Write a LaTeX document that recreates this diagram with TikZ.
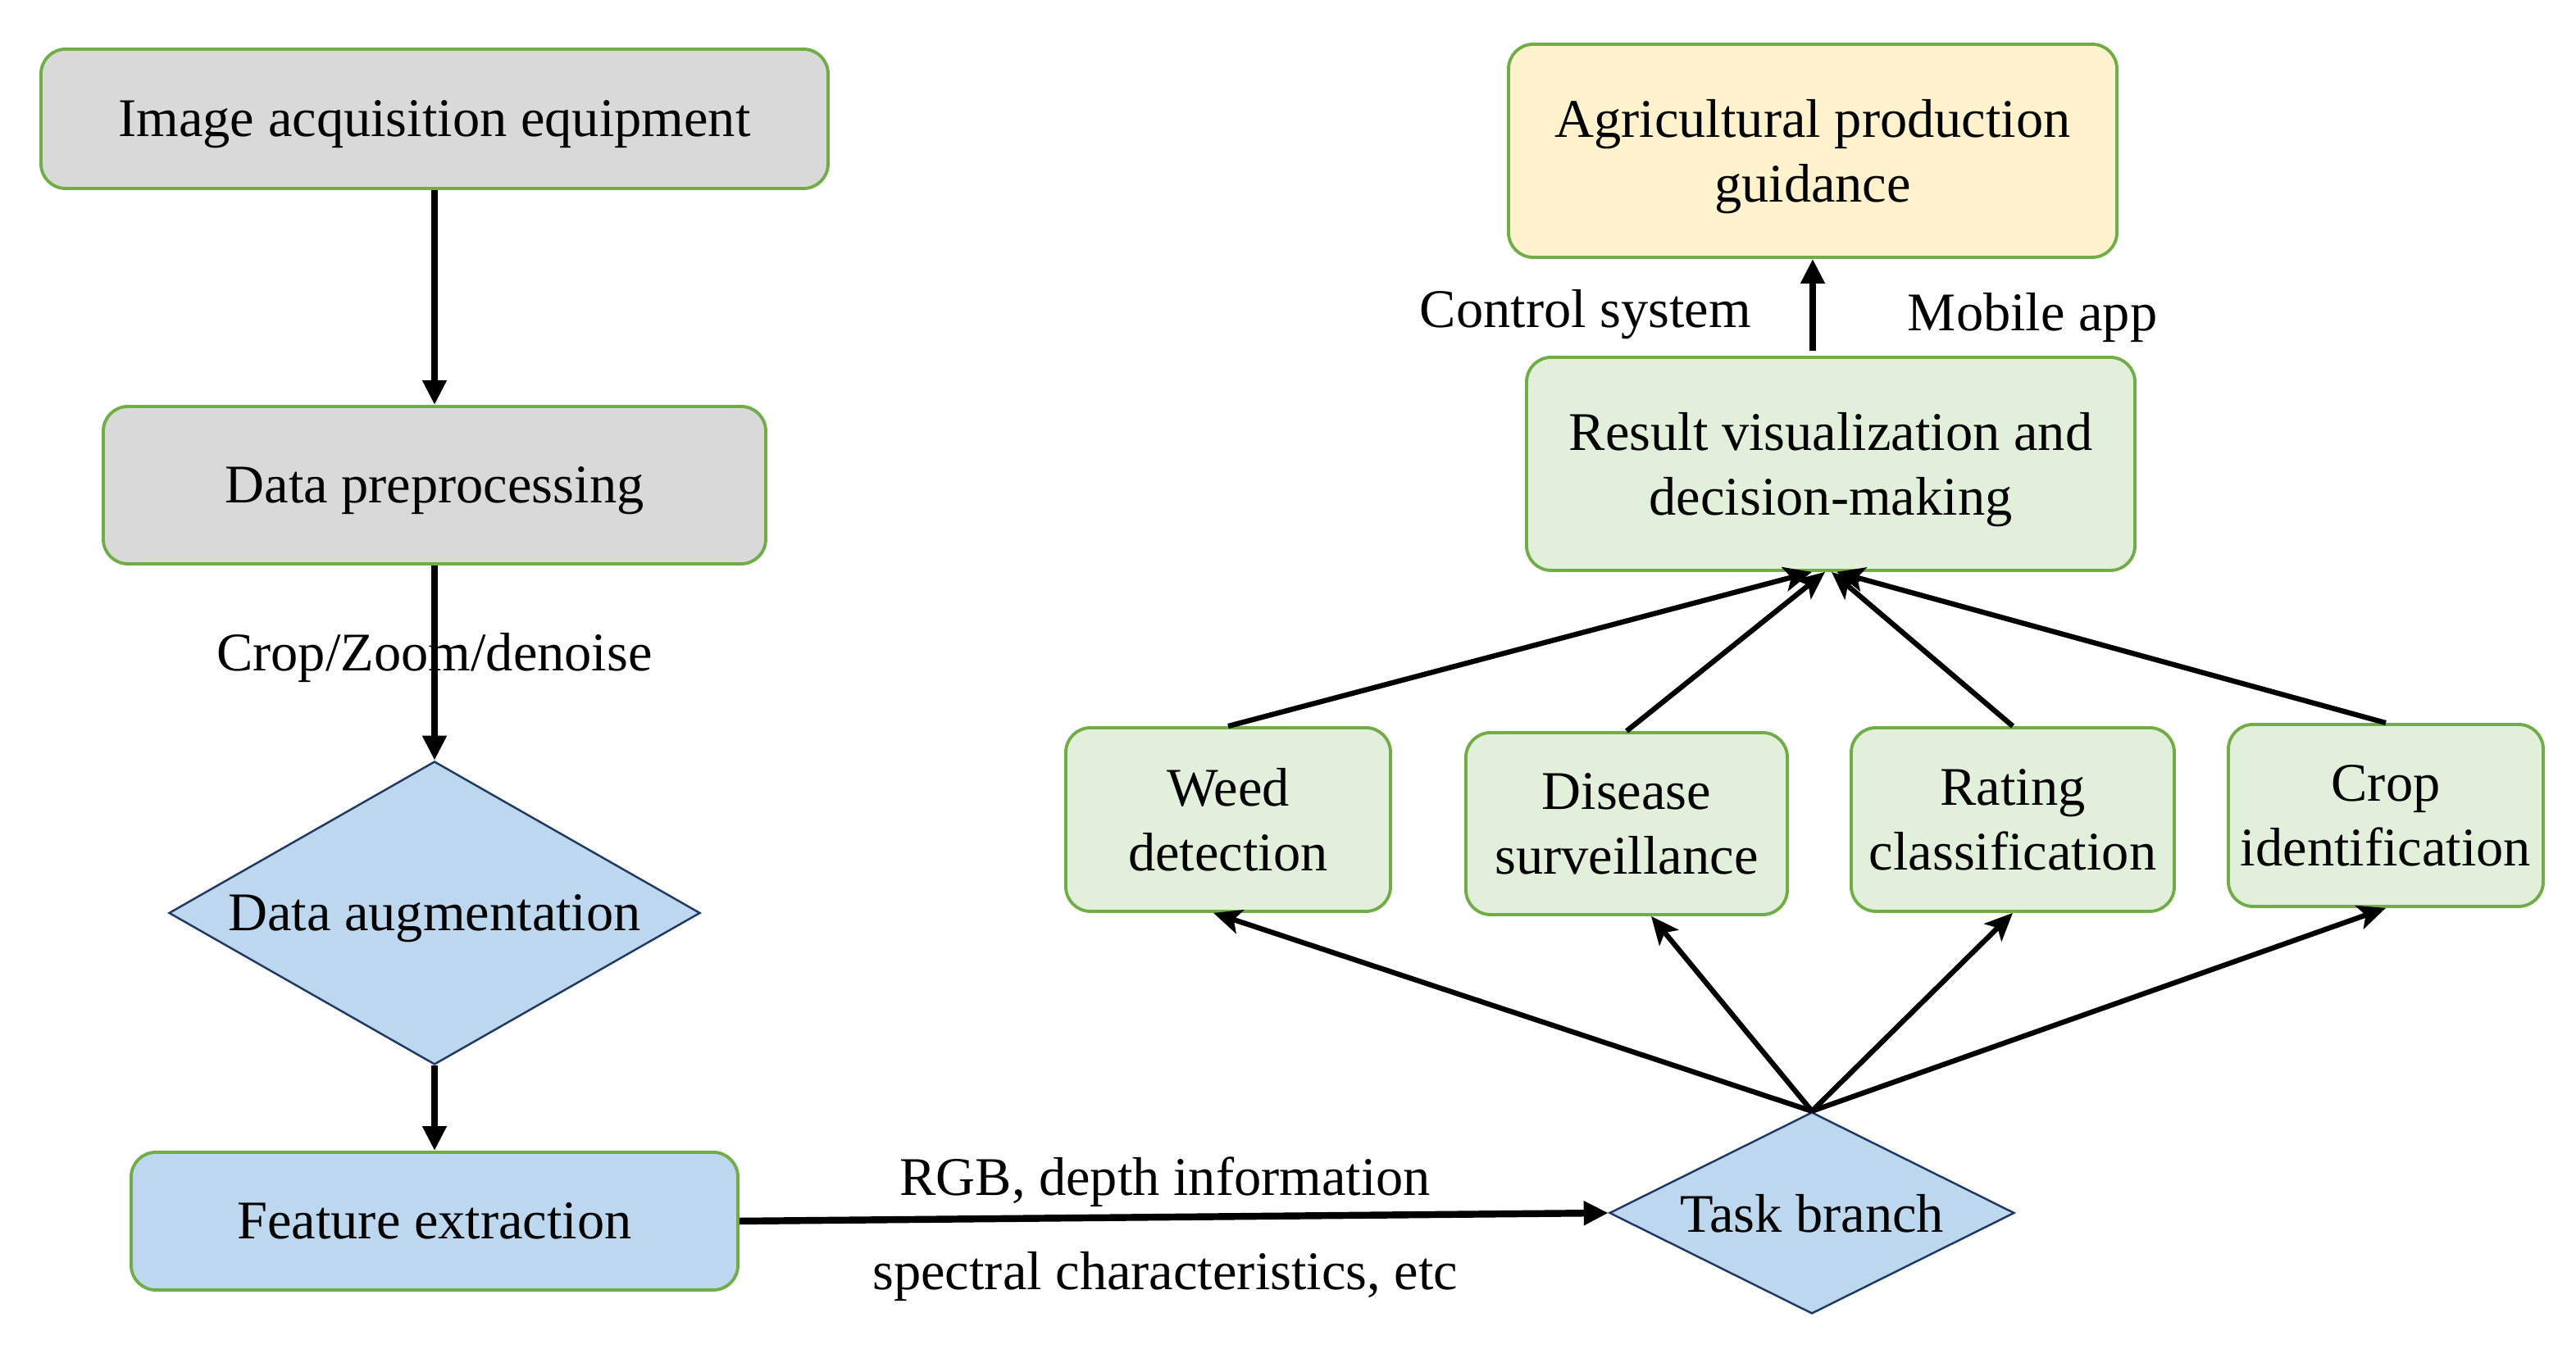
\documentclass[tikz,border=0pt]{standalone}
\usepackage{fontspec}
\setmainfont{Liberation Serif}
\usetikzlibrary{shapes.geometric,arrows.meta,positioning}

\definecolor{edgegreen}{HTML}{70AD47}
\definecolor{fillgray}{HTML}{D9D9D9}
\definecolor{fillgreen}{HTML}{E2EFDA}
\definecolor{fillyellow}{HTML}{FFF2CC}
\definecolor{fillblue}{HTML}{BDD7EE}
\definecolor{edgenavy}{HTML}{203864}

\begin{document}
\begin{tikzpicture}[
  font=\fontsize{18.9pt}{22.5pt}\selectfont,
  box/.style={draw=edgegreen, line width=1.1pt, rounded corners=0.3cm, align=center, inner sep=0pt, text depth=0pt},
  decision/.style={diamond, draw=edgenavy, line width=0.7pt, fill=fillblue, inner sep=0pt, text depth=0pt},
  arr/.style={-{Triangle[length=0.3cm, width=0.28cm]}, line width=2.4pt},
  fan/.style={-{Stealth[length=0.34cm, width=0.3cm, inset=0.08cm]}, line width=1.8pt}
]

  \useasboundingbox (0, 0) rectangle (31.42, 16.46);

  % left column
  \node[box, fill=fillgray, minimum width=9.6cm, minimum height=1.7cm] (acq) at (5.30, 15.01) {Image acquisition equipment};
  \node[box, fill=fillgray, minimum width=8.08cm, minimum height=1.92cm] (pre) at (5.30, 10.54) {Data preprocessing};
  \node[decision, shape aspect=1.75, minimum width=6.48cm, minimum height=3.7cm] (aug) at (5.30, 5.32) {Data augmentation};
  \node[box, fill=fillblue, minimum width=7.4cm, minimum height=1.68cm] (feat) at (5.30, 1.56) {Feature extraction};

  % right part
  \node[decision, shape aspect=2, minimum width=4.94cm, minimum height=2.46cm] (task) at (22.10, 1.66) {Task branch};
  \node[box, fill=fillgreen, minimum width=3.96cm, minimum height=2.24cm] (weed) at (14.98, 6.46) {Weed\\detection};
  \node[box, fill=fillgreen, minimum width=3.92cm, minimum height=2.22cm] (dis) at (19.84, 6.41) {Disease\\surveillance};
  \node[box, fill=fillgreen, minimum width=3.94cm, minimum height=2.24cm] (rat) at (24.55, 6.46) {Rating\\classification};
  \node[box, fill=fillgreen, minimum width=3.84cm, minimum height=2.22cm] (crop) at (29.10, 6.51) {Crop\\identification};
  \node[box, fill=fillgreen, minimum width=7.42cm, minimum height=2.6cm] (res) at (22.33, 10.80) {Result visualization and\\decision-making};
  \node[box, fill=fillyellow, minimum width=7.42cm, minimum height=2.6cm] (agri) at (22.11, 14.62) {Agricultural production\\guidance};

  \draw[arr] (acq) -- (pre);
  \draw[arr] (pre) -- node[pos=0.474] (prelabel) {Crop/Zoom/denoise} (aug);
  \draw[arr] (aug) -- (feat);
  \draw[arr] (feat.east) -- node[pos=0.49, above=0.08cm, inner sep=0pt] (rgb) {RGB, depth information}
    node[pos=0.49, below=0.38cm, inner sep=0pt] (spec) {spectral characteristics, etc} (task.west);

  \foreach \n/\dx in {weed/-0.18, dis/0.3, rat/0, crop/0}
    \draw[fan] (task.north) -- ([xshift=\dx cm]\n.south);
  \foreach \n/\dx in {weed/-0.23, dis/-0.07, rat/0.01, crop/0.07}
    \draw[fan] (\n.north) -- ([xshift=\dx cm]res.south);

  \draw[arr] ([yshift=0.06cm]res.north -| agri.south) -- node[left=0.59cm, yshift=-0.12cm] (ctrl) {Control system}
    node[right=1cm, yshift=-0.16cm] (mob) {Mobile app} (agri.south);

\end{tikzpicture}
\end{document}
